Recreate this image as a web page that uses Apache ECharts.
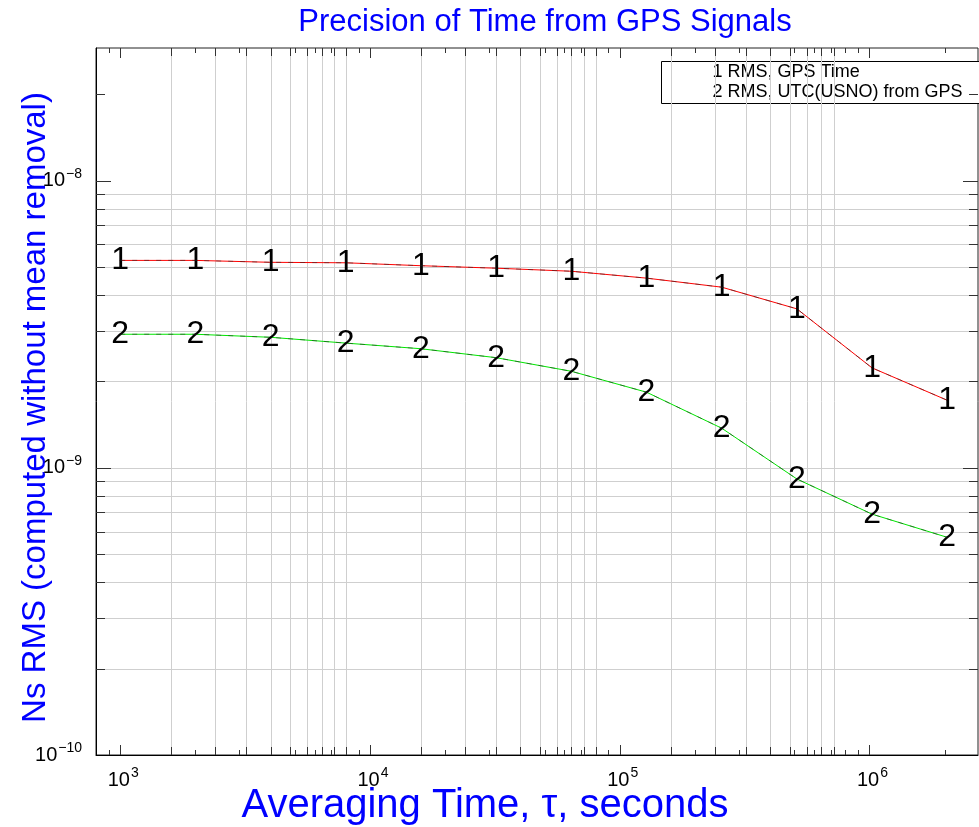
<!DOCTYPE html>
<html>
<head>
<meta charset="utf-8">
<title>Precision of Time from GPS Signals</title>
<script src="https://cdn.jsdelivr.net/npm/echarts@6/dist/echarts.min.js"></script>
<style>
  html, body { margin: 0; padding: 0; background: #fff; }
  #chart { width: 979px; height: 827px; }
</style>
</head>
<body>
<div id="chart"></div>
<script>
// averaging time (tau), seconds
const TAU = [1000, 2000, 4000, 8000, 16000, 32000, 64000, 128000, 256000, 512000, 1024000, 2048000];
// curve 1: RMS, GPS Time
const RMS_GPS_TIME = [5.28e-9, 5.28e-9, 5.2e-9, 5.18e-9, 5.06e-9, 4.96e-9, 4.84e-9, 4.58e-9, 4.26e-9, 3.58e-9, 2.23e-9, 1.72e-9];
// curve 2: RMS, UTC(USNO) from GPS
const RMS_UTC_USNO = [2.92e-9, 2.92e-9, 2.85e-9, 2.72e-9, 2.6e-9, 2.42e-9, 2.17e-9, 1.835e-9, 1.375e-9, 0.915e-9, 0.69e-9, 0.573e-9];

const SERIES_NAMES = ['RMS, GPS Time', 'RMS, UTC(USNO) from GPS'];

// axis extents
const X_MIN = 800, X_MAX = 2.72e6;
const Y_MIN = 1e-10, Y_MAX = 2.9e-8;

// tick / grid positions (the original plot's grid is offset from the decades)
const X_MAJOR = [1e3, 1e4, 1e5, 1e6];
const X_MINOR = [900, 2e3, 3e3, 4e3, 5e3, 6e3, 7e3, 8e3, 9e3, 2e4, 3e4, 4e4, 5e4, 6e4, 7e4, 8e4, 9e4,
                 2e5, 3e5, 4e5, 5e5, 6e5, 7e5, 8e5, 9e5, 2e6];
const X_GRID = [1600, 2400, 3200, 4000, 4800, 5600, 6400, 7200, 8000,
                16000, 24000, 32000, 40000, 48000, 56000, 64000, 72000, 80000,
                160000, 240000, 320000, 400000, 480000, 560000, 640000, 720000];
const Y_MAJOR = [1e-9, 1e-8];
const Y_MINOR = [2e-8];
const Y_GRID = [2e-10, 3e-10, 4e-10, 5e-10, 6e-10, 7e-10, 8e-10, 9e-10, 1e-9,
                2e-9, 3e-9, 4e-9, 5e-9, 6e-9, 7e-9, 8e-9, 9e-9];

const FONT = 'Liberation Sans, Arial, Helvetica, sans-serif';
const GRID_COLOR = '#cfcfcf';
const TICK_COLOR = '#333';

const chart = echarts.init(document.getElementById('chart'));

// vertical grid line and/or ticks at bottom & top
function xMarks(len, withGrid) {
  return function (params, api) {
    const x = api.value(0);
    const a = api.coord([x, Y_MIN]);
    const b = api.coord([x, Y_MAX]);
    const px = Math.round(a[0]) + 0.5;
    const kids = [];
    if (withGrid) {
      kids.push({ type: 'line', shape: { x1: px, y1: a[1], x2: px, y2: b[1] }, style: { stroke: GRID_COLOR, lineWidth: 1 } });
    }
    kids.push({ type: 'line', shape: { x1: px, y1: a[1], x2: px, y2: a[1] - len }, style: { stroke: TICK_COLOR, lineWidth: 1 } });
    kids.push({ type: 'line', shape: { x1: px, y1: b[1], x2: px, y2: b[1] + len }, style: { stroke: TICK_COLOR, lineWidth: 1 } });
    return { type: 'group', children: kids };
  };
}

// horizontal grid line and/or ticks at left & right
function yMarks(len, withGrid) {
  return function (params, api) {
    const y = api.value(1);
    const a = api.coord([X_MIN, y]);
    const b = api.coord([X_MAX, y]);
    const py = Math.round(a[1]) + 0.5;
    const kids = [];
    if (withGrid) {
      kids.push({ type: 'line', shape: { x1: a[0], y1: py, x2: b[0], y2: py }, style: { stroke: GRID_COLOR, lineWidth: 1 } });
    }
    kids.push({ type: 'line', shape: { x1: a[0], y1: py, x2: a[0] + len, y2: py }, style: { stroke: TICK_COLOR, lineWidth: 1 } });
    kids.push({ type: 'line', shape: { x1: b[0], y1: py, x2: b[0] - len, y2: py }, style: { stroke: TICK_COLOR, lineWidth: 1 } });
    return { type: 'group', children: kids };
  };
}

function markSeries(data, fn) {
  return { type: 'custom', silent: true, z: 1, renderItem: fn, data: data };
}

function powLabel(v) {
  const e = Math.log10(v);
  const r = Math.round(e);
  if (Math.abs(e - r) > 1e-6) return '';
  return '{b|10}{s|' + String(r).replace('-', '\u2212') + '}';
}

const powRich = {
  b: { fontSize: 20, fontFamily: FONT, color: '#000' },
  s: { fontSize: 14, fontFamily: FONT, color: '#000', verticalAlign: 'bottom', padding: [0, 0, 14, 1] }
};

const option = {
  animation: false,
  backgroundColor: '#fff',
  title: {
    text: 'Precision of Time from GPS Signals',
    left: 540,
    top: 2,
    textAlign: 'center',
    textStyle: { color: '#0000ff', fontSize: 31, fontWeight: 'normal', fontFamily: FONT }
  },
  grid: {
    left: 96, right: 1, top: 48, bottom: 72,
    outerBoundsMode: 'none',
    containLabel: false,
    show: true, borderColor: '#222', borderWidth: 1, backgroundColor: 'transparent'
  },
  xAxis: {
    type: 'log',
    min: X_MIN,
    max: X_MAX,
    name: 'Averaging Time, \u03c4, seconds',
    nameLocation: 'middle',
    nameGap: 31,
    nameMoveOverlap: false,
    nameTextStyle: { color: '#0000ff', fontSize: 40, fontFamily: FONT, padding: [0, 104, 0, 0] },
    axisLine: { show: true, lineStyle: { color: '#000', width: 1 } },
    axisTick: { show: false },
    splitLine: { show: false },
    minorTick: { show: false },
    axisLabel: { formatter: powLabel, rich: powRich, fontSize: 20, margin: 11, padding: [0, 0, 0, 6] }
  },
  yAxis: {
    type: 'log',
    min: Y_MIN,
    max: Y_MAX,
    name: 'Ns RMS (computed without mean removal)',
    nameLocation: 'middle',
    nameGap: 44,
    nameMoveOverlap: false,
    nameTextStyle: { color: '#0000ff', fontSize: 33, fontFamily: FONT, padding: [0, 12, 0, 0] },
    axisLine: { show: true, lineStyle: { color: '#000', width: 1 } },
    axisTick: { show: false },
    splitLine: { show: false },
    axisLabel: { formatter: powLabel, rich: powRich, fontSize: 20, margin: 14 }
  },
  graphic: [
    {
      type: 'group',
      left: 661,
      top: 61,
      children: [
        { type: 'rect', shape: { x: 0, y: 0, width: 330, height: 42 }, style: { fill: '#fff', stroke: '#000', lineWidth: 1 } },
        { type: 'text', x: 51, y: 11, style: { text: '1 ' + SERIES_NAMES[0], fill: '#000', font: '18px ' + FONT, verticalAlign: 'middle' } },
        { type: 'text', x: 51, y: 31, style: { text: '2 ' + SERIES_NAMES[1], fill: '#000', font: '18px ' + FONT, verticalAlign: 'middle' } }
      ]
    }
  ],
  series: [
    markSeries(X_GRID.map(v => [v, Y_MIN]), xMarks(8, true)),
    markSeries(X_MINOR.map(v => [v, Y_MIN]), xMarks(5, false)),
    markSeries(X_MAJOR.map(v => [v, Y_MIN]), xMarks(10, false)),
    markSeries(Y_GRID.map(v => [X_MIN, v]), yMarks(9, true)),
    markSeries(Y_MINOR.map(v => [X_MIN, v]), yMarks(9, false)),
    markSeries(Y_MAJOR.map(v => [X_MIN, v]), yMarks(15, false)),
    {
      name: SERIES_NAMES[0],
      type: 'line',
      z: 3,
      data: TAU.map((t, i) => [t, RMS_GPS_TIME[i]]),
      symbol: 'circle',
      symbolSize: 1,
      showAllSymbol: true,
      itemStyle: { color: '#ff0000' },
      lineStyle: { color: '#ff0000', width: 1 },
      label: { show: true, position: 'inside', formatter: '1', fontSize: 32, color: '#000', fontFamily: FONT },
      labelLayout: { hideOverlap: false }
    },
    {
      name: SERIES_NAMES[1],
      type: 'line',
      z: 3,
      data: TAU.map((t, i) => [t, RMS_UTC_USNO[i]]),
      symbol: 'circle',
      symbolSize: 1,
      showAllSymbol: true,
      itemStyle: { color: '#00e600' },
      lineStyle: { color: '#00e600', width: 1 },
      label: { show: true, position: 'inside', formatter: '2', fontSize: 32, color: '#000', fontFamily: FONT },
      labelLayout: { hideOverlap: false }
    },
    // dark dash pattern seen on top of both curves
    {
      type: 'line', z: 4, silent: true, symbol: 'none',
      data: TAU.map((t, i) => [t, RMS_GPS_TIME[i]]),
      lineStyle: { color: 'rgba(40,40,40,0.55)', width: 1, type: [5, 7] }
    },
    {
      type: 'line', z: 4, silent: true, symbol: 'none',
      data: TAU.map((t, i) => [t, RMS_UTC_USNO[i]]),
      lineStyle: { color: 'rgba(40,40,40,0.55)', width: 1, type: [5, 7] }
    }
  ]
};

chart.setOption(option);
</script>
</body>
</html>
